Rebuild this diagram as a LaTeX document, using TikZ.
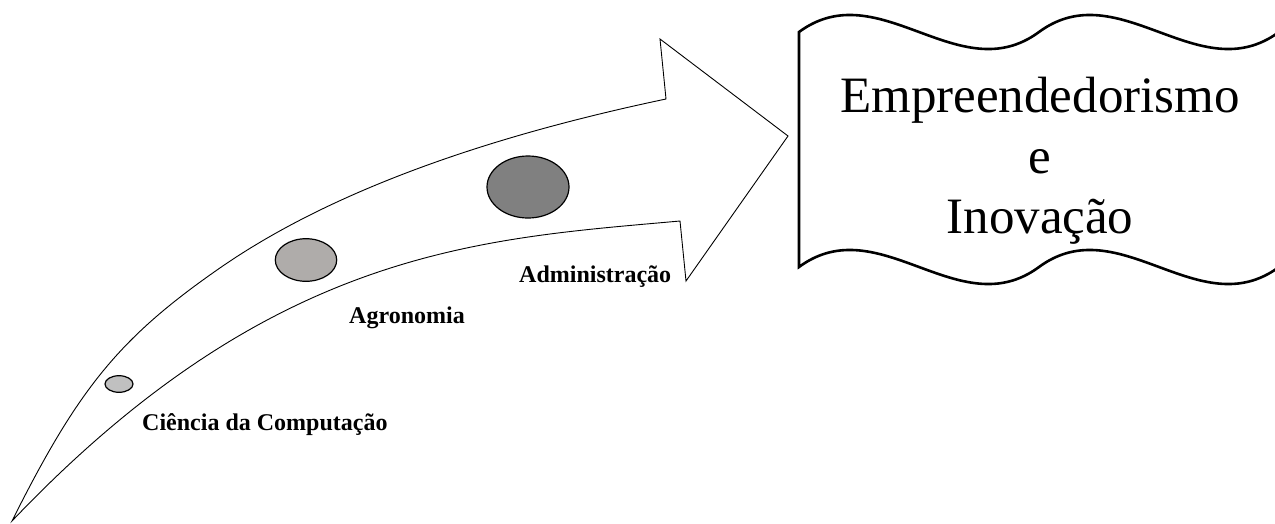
\documentclass[tikz,border=0pt]{standalone}
\usepackage{fontspec}
\setmainfont{Liberation Serif}
\usetikzlibrary{shapes.geometric}

\definecolor{dotsmall}{RGB}{192,192,192}
\definecolor{dotmid}{RGB}{175,172,170}
\definecolor{dotlarge}{RGB}{128,128,128}

\tikzset{
  arrowline/.style={draw=black, line width=0.9pt, line join=miter},
  stage/.style={ellipse, draw=black, line width=1.2pt, inner sep=0pt},
  stagelabel/.style={anchor=base west, inner sep=0pt,
    font=\bfseries\fontsize{24}{28}\selectfont},
  banner/.style={draw=black, line width=2.6pt, line join=miter},
  bannertext/.style={align=center, inner sep=0pt, anchor=north,
    font=\fontsize{51}{60.5}\selectfont}
}

\begin{document}
\begin{tikzpicture}[x=1pt, y=-1pt]
  \useasboundingbox (0,0) rectangle (1275,523);

  % curved growth arrow: upper edge, head, lower edge back to the tail point
  \draw[arrowline]
    (12,521) .. controls (78,389) and (119,338.5) .. (217,270)
             .. controls (321,197) and (471,140) .. (666,99)
    -- (660,39) -- (788,136) -- (686,281) -- (680,221)
             .. controls (480,239) and (272,248) .. (12,521)
    -- cycle;

  % stages along the arrow
  \node[stage, fill=dotsmall, minimum width=28pt, minimum height=16.6pt] (cc) at (119,384) {};
  \node[stage, fill=dotmid, minimum width=61.4pt, minimum height=42.6pt] (agro) at (306,260) {};
  \node[stage, fill=dotlarge, minimum width=82pt, minimum height=62pt] (adm) at (528,187) {};

  \node[stagelabel] (ccl) at (142,430) {Ciência da Computação};
  \node[stagelabel] (agrol) at (349,323) {Agronomia};
  \node[stagelabel] (adml) at (519,282) {Administração};

  % wavy banner
  \draw[banner]
    (799,32) .. controls (879,-27) and (959,91) .. (1039,32)
             .. controls (1119,-27) and (1199,91) .. (1279,32)
    -- (1279,267)
             .. controls (1199,326) and (1119,208) .. (1039,267)
             .. controls (959,326) and (879,208) .. (799,267)
    -- cycle;

  \node[bannertext] (goal) at (1040,77) {Empreendedorismo\\e\\Inovação};
\end{tikzpicture}
\end{document}
